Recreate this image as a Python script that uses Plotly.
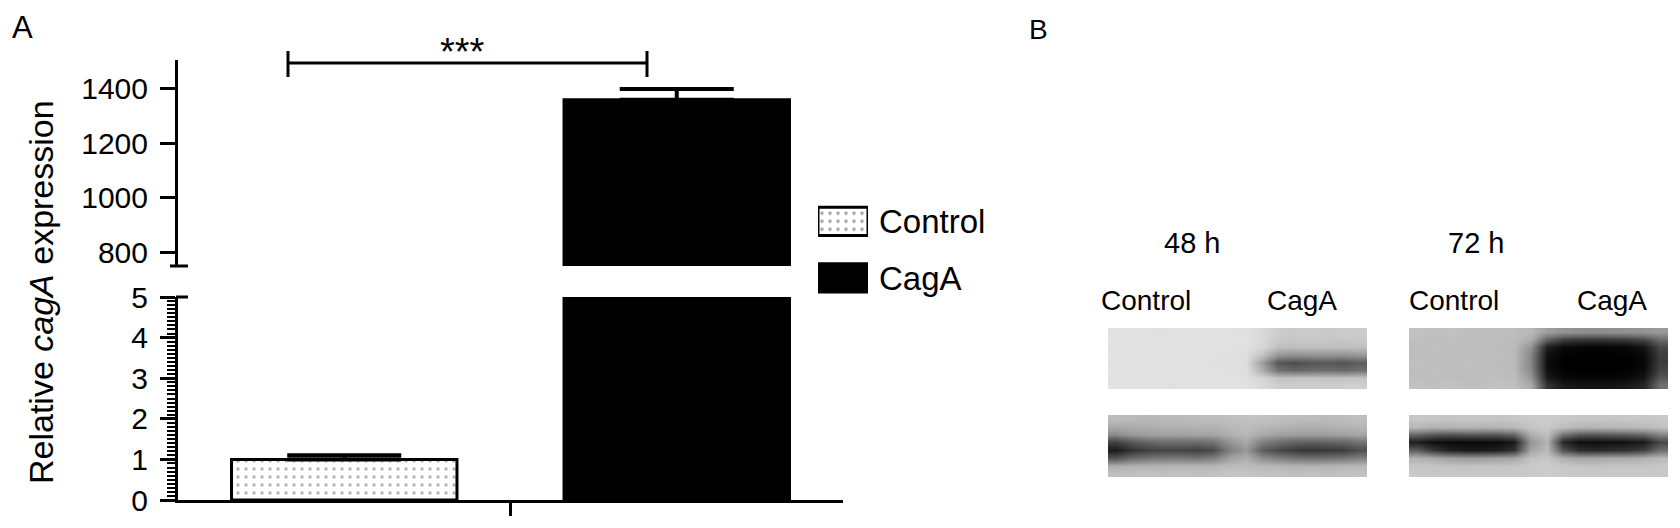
import plotly.graph_objects as go

W, H = 1680, 528
PAGE_OFFSET = 8  # the page body adds an 8 px margin around the figure


def px(x):
    return (x - PAGE_OFFSET) / W


def py(y):
    return 1 - (y - PAGE_OFFSET) / H


# ---------------- data: panel A ----------------
groups = ["Group"]
series_names = ["Control", "CagA"]
control_mean = [1.0]
control_sd = [0.1]
caga_mean = [1360.0]
caga_sd = [40.0]
lower_ticks = [0, 1, 2, 3, 4, 5]
upper_ticks = [800, 1000, 1200, 1400]
significance = "***"

# ---------------- data: panel B (band darkness 0-100, rows top->bottom) ----------------
time_labels = ["48 h", "72 h"]
lane_labels = ["Control", "CagA"]
blot_48_top = [
    [12, 11, 12, 12, 11, 12, 11, 12, 12, 15, 20, 21, 20, 21, 20, 20],
    [11, 12, 11, 12, 12, 11, 12, 11, 12, 15, 21, 22, 21, 22, 22, 21],
    [12, 11, 12, 11, 12, 12, 11, 12, 12, 16, 25, 26, 25, 25, 26, 25],
    [11, 12, 12, 11, 12, 11, 12, 12, 13, 24, 42, 44, 43, 42, 43, 41],
    [12, 11, 11, 12, 11, 12, 12, 12, 13, 38, 66, 70, 67, 66, 68, 64],
    [11, 12, 12, 11, 12, 11, 12, 12, 13, 32, 56, 60, 58, 57, 59, 56],
    [12, 11, 12, 12, 11, 12, 11, 12, 12, 17, 24, 24, 23, 24, 24, 23],
    [11, 12, 11, 12, 12, 11, 12, 11, 12, 15, 19, 20, 19, 20, 19, 19],
]
blot_48_bottom = [
    [26, 27, 28, 27, 27, 26, 26, 25, 24, 24, 25, 26, 26, 27, 26, 25],
    [34, 33, 32, 31, 31, 30, 30, 28, 26, 28, 30, 31, 32, 31, 30, 29],
    [46, 40, 38, 37, 37, 36, 36, 31, 28, 34, 37, 38, 39, 38, 37, 35],
    [74, 66, 60, 57, 57, 58, 55, 42, 34, 50, 57, 61, 63, 62, 60, 55],
    [90, 80, 75, 73, 73, 75, 71, 50, 40, 63, 71, 77, 79, 78, 76, 69],
    [66, 58, 54, 52, 52, 54, 50, 37, 32, 44, 50, 54, 56, 55, 54, 49],
    [33, 31, 30, 30, 29, 29, 29, 27, 26, 28, 29, 30, 30, 30, 29, 28],
    [25, 25, 24, 25, 24, 25, 24, 23, 23, 24, 24, 25, 24, 25, 24, 24],
]
blot_72_top = [
    [24, 25, 24, 25, 26, 25, 26, 28, 38, 42, 44, 44, 44, 43, 42, 40],
    [25, 26, 25, 26, 25, 26, 26, 32, 62, 76, 79, 79, 79, 77, 72, 58],
    [26, 25, 26, 26, 25, 26, 27, 42, 88, 96, 98, 98, 98, 97, 92, 72],
    [26, 26, 25, 26, 26, 25, 27, 47, 94, 99, 100, 100, 100, 99, 96, 76],
    [25, 26, 26, 25, 26, 26, 27, 47, 95, 100, 100, 100, 100, 100, 97, 76],
    [26, 25, 26, 26, 25, 26, 27, 46, 94, 99, 100, 100, 100, 99, 96, 73],
    [25, 26, 25, 26, 26, 25, 26, 40, 90, 97, 98, 98, 98, 97, 92, 66],
    [24, 25, 24, 25, 25, 24, 25, 33, 80, 90, 92, 92, 92, 90, 85, 56],
]
blot_72_bottom = [
    [22, 22, 23, 22, 22, 23, 22, 21, 20, 21, 22, 22, 23, 22, 22, 21],
    [28, 30, 30, 29, 30, 29, 28, 23, 21, 26, 29, 29, 28, 28, 27, 25],
    [60, 66, 68, 66, 66, 66, 60, 32, 25, 55, 65, 67, 65, 63, 60, 48],
    [88, 94, 96, 96, 96, 95, 90, 42, 29, 85, 94, 95, 94, 93, 90, 72],
    [64, 78, 87, 90, 90, 88, 80, 36, 27, 68, 82, 84, 82, 80, 74, 57],
    [30, 33, 37, 39, 39, 37, 35, 24, 22, 31, 35, 35, 33, 33, 31, 27],
    [23, 23, 24, 24, 23, 24, 23, 21, 20, 22, 23, 24, 23, 23, 23, 22],
    [21, 22, 21, 22, 21, 22, 21, 21, 20, 21, 21, 22, 21, 21, 21, 21],
]

FONT = "Liberation Sans, Arial, sans-serif"

control_marker = dict(
    color="white",
    line=dict(color="black", width=3),
    pattern=dict(shape=".", fgcolor="#6a6a6a", size=8, solidity=0.15, fillmode="overlay"),
)
caga_marker = dict(color="black", line=dict(color="black", width=3))
err_style = dict(type="data", symmetric=False, color="black", thickness=4, width=57)

fig = go.Figure()

# lower (0-5) subplot
fig.add_trace(go.Bar(x=groups, y=control_mean, name=series_names[0], marker=control_marker,
                     error_y=dict(array=control_sd, arrayminus=[0], **err_style),
                     xaxis="x", yaxis="y", showlegend=False, hoverinfo="skip"))
fig.add_trace(go.Bar(x=groups, y=caga_mean, name=series_names[1], marker=caga_marker,
                     xaxis="x", yaxis="y", showlegend=False, hoverinfo="skip"))
# upper (broken) subplot
fig.add_trace(go.Bar(x=groups, y=control_mean, name=series_names[0], marker=control_marker,
                     xaxis="x", yaxis="y2", showlegend=False, hoverinfo="skip"))
fig.add_trace(go.Bar(x=groups, y=caga_mean, name=series_names[1], marker=caga_marker,
                     error_y=dict(array=caga_sd, arrayminus=[0], **err_style),
                     xaxis="x", yaxis="y2", showlegend=False, hoverinfo="skip"))

# legend swatches drawn as a tiny bar chart whose tick labels are the series names
fig.add_trace(go.Bar(y=series_names, x=[1, 1], orientation="h", width=0.5, offset=-0.25,
                     marker=dict(color=["white", "black"], line=dict(color="black", width=3),
                                 pattern=dict(shape=[".", ""], fgcolor="#6a6a6a", size=8,
                                              solidity=0.15, fillmode="overlay")),
                     xaxis="x3", yaxis="y3", showlegend=False, hoverinfo="skip"))

# western blot strips
blots = [blot_48_top, blot_48_bottom, blot_72_top, blot_72_bottom]
for i, z in enumerate(blots):
    n = i + 4
    fig.add_trace(go.Heatmap(z=z, colorscale=[[0, "#ffffff"], [1, "#000000"]], zmin=0, zmax=100,
                             zsmooth="best", showscale=False, hoverinfo="skip",
                             xaxis=f"x{n}", yaxis=f"y{n}"))

axis_common = dict(showgrid=False, zeroline=False, showline=True, linecolor="black", linewidth=3,
                   ticks="outside", tickcolor="black", tickwidth=3, ticklen=15, automargin=False,
                   tickfont=dict(size=30, color="black", family=FONT), ticklabelstandoff=6)

layout = dict(
    template="none",
    width=W, height=H, margin=dict(l=0, r=0, t=0, b=0, pad=0, autoexpand=False),
    paper_bgcolor="white", plot_bgcolor="rgba(0,0,0,0)",
    font=dict(family=FONT, color="black"),
    barmode="group", bargap=0, bargroupgap=0.322, showlegend=False,
    xaxis=dict(domain=[px(178), px(843)], anchor="y", type="category", range=[-0.5, 0.5],
               showgrid=False, zeroline=False, showline=True, linecolor="black", linewidth=3,
               ticks="outside", tickcolor="black", tickwidth=3, ticklen=13, showticklabels=False,
               automargin=False),
    yaxis=dict(domain=[py(500), py(297)], anchor="x", range=[0, 5], tickvals=lower_ticks,
               minor=dict(dtick=0.1, ticks="outside", ticklen=8, tickwidth=2, tickcolor="black"),
               **axis_common),
    yaxis2=dict(domain=[py(266), py(60)], anchor="x", range=[748.5, 1506.7], tickvals=upper_ticks,
                **axis_common),
    xaxis3=dict(domain=[px(818), px(868)], anchor="y3", range=[0, 1], visible=False, automargin=False),
    yaxis3=dict(domain=[py(306.25), py(193.25)], anchor="x3", type="category", autorange="reversed",
                side="right", showgrid=False, zeroline=False, showline=False, ticks="",
                automargin=False,
                tickfont=dict(size=33, color="black", family=FONT), ticklabelstandoff=10),
)

strip_boxes = [
    (1108, 1367, 328, 389),
    (1108, 1367, 415, 477),
    (1409, 1668, 328, 389),
    (1409, 1668, 415, 477),
]
for i, (x0, x1, y0, y1) in enumerate(strip_boxes):
    n = i + 4
    layout[f"xaxis{n}"] = dict(domain=[px(x0), px(x1)], anchor=f"y{n}", range=[-0.5, 15.5],
                               visible=False, automargin=False)
    layout[f"yaxis{n}"] = dict(domain=[py(y1), py(y0)], anchor=f"x{n}", range=[7.5, -0.5],
                               visible=False, automargin=False)

fig.update_layout(**layout)

# axis-break marks and significance bracket
line_k = dict(color="black", width=3)
shapes = [
    dict(type="line", xref="paper", yref="paper", x0=px(170), x1=px(188), y0=py(266), y1=py(266), line=line_k),
    dict(type="line", xref="paper", yref="paper", x0=px(176), x1=px(188), y0=py(297), y1=py(297), line=line_k),
    dict(type="line", xref="paper", yref="paper", x0=px(288), x1=px(647), y0=py(63), y1=py(63), line=line_k),
    dict(type="line", xref="paper", yref="paper", x0=px(288), x1=px(288), y0=py(51), y1=py(77), line=line_k),
    dict(type="line", xref="paper", yref="paper", x0=px(647), x1=px(647), y0=py(51), y1=py(77), line=line_k),
]
fig.update_layout(shapes=shapes)

ann = []


def add_text(text, x, y, size, angle=0):
    ann.append(dict(text=text, x=px(x), y=py(y), xref="paper", yref="paper", showarrow=False,
                    xanchor="center", yanchor="middle", textangle=angle,
                    font=dict(size=size, family=FONT, color="black")))


add_text("A", 22, 28, 31)
add_text("B", 1038, 30, 28)
add_text(significance, 462, 52, 38)
add_text("Relative <i>cagA</i> expression", 41, 292, 34, angle=-90)
add_text(time_labels[0], 1192, 243, 29)
add_text(time_labels[1], 1476, 243, 29)
add_text(lane_labels[0], 1146, 300, 28)
add_text(lane_labels[1], 1302, 300, 28)
add_text(lane_labels[0], 1454, 300, 28)
add_text(lane_labels[1], 1612, 300, 28)
fig.update_layout(annotations=ann)

fig.write_html("out.html")
